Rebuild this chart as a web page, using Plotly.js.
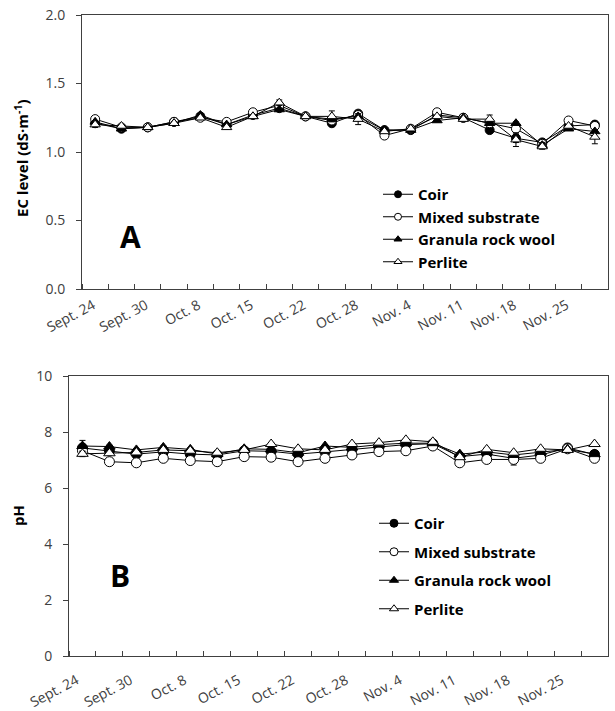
<!DOCTYPE html>
<html>
<head>
<meta charset="utf-8">
<script src="https://cdn.plot.ly/plotly-3.0.1.min.js"></script>
<style>html,body{margin:0;padding:0;background:#fff}#chart{width:615px;height:711px}</style>
</head>
<body>
<div id="chart"></div>
<script>
// ---- data ----
const seriesNames = ['Coir', 'Mixed substrate', 'Granula rock wool', 'Perlite'];
const tickLabels = ['Sept. 24', 'Sept. 30', 'Oct. 8', 'Oct. 15', 'Oct. 22', 'Oct. 28', 'Nov. 4', 'Nov. 11', 'Nov. 18', 'Nov. 25'];
const samplingIndex = [0,1,2,3,4,5,6,7,8,9,10,11,12,13,14,15,16,17,18,19];

const coirEC    = [1.21,1.17,1.18,1.22,1.26,1.20,1.27,1.32,1.26,1.21,1.28,1.16,1.16,1.27,1.25,1.16,1.10,1.07,1.19,1.20];
const mixedEC   = [1.24,1.18,1.18,1.22,1.25,1.22,1.29,1.34,1.26,1.23,1.27,1.12,1.17,1.29,1.25,1.21,1.17,1.06,1.23,1.19];
const granulaEC = [1.22,1.17,1.18,1.21,1.27,1.20,1.26,1.31,1.26,1.24,1.26,1.16,1.16,1.23,1.25,1.21,1.21,1.05,1.17,1.15];
const perliteEC = [1.20,1.19,1.18,1.21,1.25,1.18,1.26,1.36,1.26,1.26,1.24,1.15,1.17,1.26,1.24,1.24,1.09,1.04,1.19,1.11];

const coirECerr    = [0.01,0.01,0.01,0.01,0.01,0.01,0.01,0.01,0.01,0.01,0.01,0.01,0.01,0.01,0.01,0.01,0.03,0.02,0.01,0.01];
const mixedECerr   = [0.01,0.01,0.01,0.01,0.01,0.01,0.01,0.01,0.01,0.01,0.01,0.01,0.01,0.01,0.01,0.01,0.04,0.01,0.01,0.01];
const granulaECerr = [0.01,0.01,0.01,0.01,0.01,0.01,0.01,0.01,0.01,0.01,0.01,0.01,0.01,0.01,0.01,0.01,0.01,0.02,0.01,0.01];
const perliteECerr = [0.02,0.01,0.01,0.01,0.01,0.01,0.01,0.02,0.01,0.04,0.04,0.01,0.02,0.01,0.01,0.03,0.05,0.02,0.01,0.05];

const coirPH    = [7.43,7.33,7.21,7.29,7.21,7.18,7.33,7.31,7.21,7.29,7.38,7.45,7.55,7.58,7.12,7.21,7.06,7.18,7.43,7.20];
const mixedPH   = [7.33,6.94,6.90,7.06,6.98,6.94,7.12,7.10,6.94,7.06,7.18,7.30,7.33,7.50,6.90,7.02,7.02,7.06,7.40,7.06];
const granulaPH = [7.50,7.48,7.36,7.45,7.38,7.21,7.40,7.38,7.26,7.50,7.45,7.55,7.60,7.60,7.21,7.29,7.18,7.29,7.38,7.21];
const perlitePH = [7.22,7.24,7.27,7.36,7.33,7.26,7.36,7.57,7.40,7.36,7.57,7.62,7.72,7.65,7.10,7.38,7.26,7.40,7.36,7.57];

const coirPHerr    = [0.05,0.05,0.05,0.05,0.05,0.05,0.05,0.05,0.05,0.05,0.05,0.05,0.05,0.05,0.05,0.05,0.05,0.05,0.05,0.05];
const mixedPHerr   = [0.05,0.05,0.05,0.05,0.05,0.05,0.05,0.05,0.05,0.05,0.05,0.05,0.05,0.05,0.05,0.05,0.20,0.05,0.05,0.05];
const granulaPHerr = [0.20,0.05,0.05,0.05,0.05,0.05,0.05,0.05,0.05,0.05,0.05,0.05,0.05,0.05,0.05,0.05,0.05,0.05,0.05,0.05];
const perlitePHerr = [0.10,0.05,0.05,0.05,0.05,0.05,0.05,0.05,0.05,0.05,0.05,0.05,0.05,0.05,0.05,0.05,0.05,0.05,0.05,0.05];

// ---- styling ----
const W = 615, H = 711;
const px = v => v / W;
const py = v => 1 - v / H;
const axisColor = '#404040';
const labelEvery = 2;
const tickvals = tickLabels.map((_, i) => i * labelEvery);

const styles = [
  {symbol: 'circle', color: 'black'},
  {symbol: 'circle', color: 'white'},
  {symbol: 'triangle-up', color: 'black'},
  {symbol: 'triangle-up', color: 'white'}
];

function mk(name, i, y, err, xa, ya, size) {
  return {
    type: 'scatter', mode: 'lines+markers', name: name, showlegend: false,
    x: samplingIndex, y: y, xaxis: xa, yaxis: ya,
    line: {color: 'black', width: 1},
    marker: {symbol: styles[i].symbol, size: size, color: styles[i].color, line: {color: 'black', width: 1}},
    error_y: {type: 'data', array: err, visible: true, color: 'black', thickness: 1, width: 3},
    cliponaxis: false
  };
}
// legend-only entries (small symbols like the reference key)
function key(name, i, xa, ya, legend, size) {
  return {
    type: 'scatter', mode: 'lines+markers', name: name, showlegend: true,
    x: [null], y: [null], xaxis: xa, yaxis: ya, legend: legend, legendgroup: legend + i,
    line: {color: 'black', width: 1},
    marker: {symbol: styles[i].symbol, size: size, color: styles[i].color, line: {color: 'black', width: 1}}
  };
}

const ecSeries = [coirEC, mixedEC, granulaEC, perliteEC];
const ecErr = [coirECerr, mixedECerr, granulaECerr, perliteECerr];
const phSeries = [coirPH, mixedPH, granulaPH, perlitePH];
const phErr = [coirPHerr, mixedPHerr, granulaPHerr, perlitePHerr];

const data = [];
seriesNames.forEach((n, i) => data.push(mk(n, i, ecSeries[i], ecErr[i], 'x', 'y', 9)));
seriesNames.forEach((n, i) => data.push(mk(n, i, phSeries[i], phErr[i], 'x2', 'y2', 10)));
seriesNames.forEach((n, i) => data.push(key(n, i, 'x', 'y', 'legend', 7)));
seriesNames.forEach((n, i) => data.push(key(n, i, 'x2', 'y2', 'legend2', 8)));

const tickFont = {family: 'Open Sans', size: 14, color: axisColor};

function xAxis(domain, anchor, shift, standoff) {
  return {
    domain: domain, anchor: anchor, range: [-0.5, samplingIndex.length - 0.5],
    tickvals: tickvals, ticktext: tickLabels, tickangle: -28, ticks: '',
    ticklabelshift: shift, ticklabelstandoff: standoff,
    tickfont: tickFont, showgrid: false, zeroline: false,
    showline: true, mirror: true, linecolor: axisColor, linewidth: 1,
    minor: {tick0: 0.5, dtick: 1, ticks: 'inside', ticklen: 5, tickcolor: axisColor, tickwidth: 1, showgrid: false},
    automargin: false, fixedrange: true
  };
}
function yAxis(domain, anchor, range, dtick, fmt, standoff) {
  return {
    domain: domain, anchor: anchor, range: range, dtick: dtick, tickformat: fmt,
    ticks: 'outside', ticklen: 5, tickcolor: axisColor, tickfont: tickFont,
    ticklabelstandoff: standoff,
    showgrid: false, zeroline: false, showline: true, mirror: true,
    linecolor: axisColor, linewidth: 1, automargin: false, fixedrange: true
  };
}

const legendFont = {family: 'Open Sans', size: 15, color: 'black', weight: 'bold'};

const layout = {
  width: W, height: H,
  margin: {l: 0, r: 0, t: 0, b: 0},
  paper_bgcolor: 'white', plot_bgcolor: 'white',
  font: {family: 'Open Sans', color: axisColor},
  showlegend: true,
  xaxis: xAxis([px(82), px(608)], 'y', -2, 2),
  yaxis: yAxis([py(289), py(15)], 'x', [0, 2], 0.5, '.1f', 8),
  xaxis2: xAxis([px(69), px(608)], 'y2', -6, 10),
  yaxis2: yAxis([py(656), py(376)], 'x2', [0, 10], 2, 'd', 8),
  legend: {x: px(378), y: py(178), xanchor: 'left', yanchor: 'top', bgcolor: 'rgba(0,0,0,0)',
           font: legendFont, tracegroupgap: 0, itemclick: false},
  legend2: {x: px(374), y: py(507), xanchor: 'left', yanchor: 'top', bgcolor: 'rgba(0,0,0,0)',
           font: legendFont, tracegroupgap: 6, itemclick: false},
  annotations: [
    {xref: 'paper', yref: 'paper', x: px(21), y: py(158), xanchor: 'center', yanchor: 'middle',
     text: '<b>EC level (dS·m<sup>-1</sup>)</b>',
     textangle: -90, showarrow: false, font: {family: 'Open Sans', size: 15, color: 'black'}},
    {xref: 'paper', yref: 'paper', x: px(18), y: py(516), xanchor: 'center', yanchor: 'middle',
     text: '<b>pH</b>',
     textangle: -90, showarrow: false, font: {family: 'Open Sans', size: 15, color: 'black'}},
    {xref: 'paper', yref: 'paper', x: px(130), y: py(236), xanchor: 'center', yanchor: 'middle',
     text: '<b>A</b>', showarrow: false, font: {family: 'Open Sans', size: 30, color: 'black'}},
    {xref: 'paper', yref: 'paper', x: px(120), y: py(575), xanchor: 'center', yanchor: 'middle',
     text: '<b>B</b>', showarrow: false, font: {family: 'Open Sans', size: 30, color: 'black'}}
  ]
};

Plotly.newPlot('chart', data, layout, {staticPlot: true, displayModeBar: false});
</script>
</body>
</html>
